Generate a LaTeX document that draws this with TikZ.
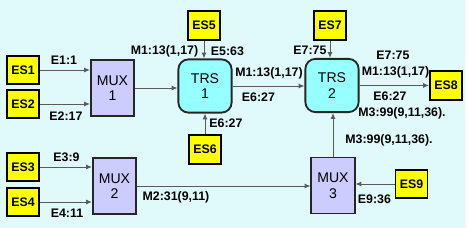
\documentclass[tikz,border=0pt]{standalone}
\usepackage{fontspec}
\setmainfont{Liberation Sans}
\usepackage{tikz}
\usetikzlibrary{arrows.meta}
\definecolor{bgcyan}{RGB}{224,250,252}
\definecolor{srcyel}{RGB}{255,255,0}
\definecolor{muxlav}{RGB}{204,204,255}
\definecolor{trscyan}{RGB}{150,255,255}
\definecolor{conngray}{RGB}{90,90,90}

\begin{document}
\begin{tikzpicture}[
  x=0.025cm, y=-0.025cm,
  src/.style={draw=black, line width=1.3pt, fill=srcyel, minimum width=0.8cm, minimum height=0.72cm,
    inner sep=0, font=\fontsize{8.8}{10}\selectfont\bfseries},
  mux/.style={draw=black!85, line width=1.3pt, fill=muxlav, minimum width=1.08cm, minimum height=1.4cm,
    inner sep=0, align=center, font=\fontsize{10}{11}\selectfont},
  trs/.style={draw=black!85, line width=1.3pt, fill=trscyan, rounded corners=0.25cm, minimum width=1.33cm,
    minimum height=1.33cm, inner sep=0, align=center, font=\fontsize{10}{11}\selectfont},
  conn/.style={draw=conngray, line width=0.7pt, -{Latex[length=4.2pt,width=3.6pt]}},
  lbl/.style={font=\fontsize{8.8}{10}\selectfont\bfseries, inner sep=0},
]
% --- tlo ---
\fill[white] (0,0) rectangle (468,228);
\fill[bgcyan] (0,0) rectangle (465,228);
% --- zrodla ES ---
\node[src] (ES1) at (23,70) {ES1};
\node[src] (ES2) at (23,104) {ES2};
\node[src] (ES3) at (23,167) {ES3};
\node[src] (ES4) at (23,202) {ES4};
\node[src] (ES5) at (204,25.5) {ES5};
\node[src] (ES6) at (205,149.5) {ES6};
\node[src] (ES7) at (330,25.5) {ES7};
\node[src] (ES8) at (446,85.5) {ES8};
\node[src] (ES9) at (411.5,184) {ES9};
% --- multipleksery i TRS ---
\node[mux] (MUX1) at (112.5,88) {MUX\\1};
\node[mux] (MUX2) at (114.5,186) {MUX\\2};
\node[mux] (MUX3) at (333,185.5) {MUX\\3};
\node[trs] (TRS1) at (205,86) {TRS\\1};
\node[trs] (TRS2) at (332,85.5) {TRS\\2};
% --- polaczenia ---
\draw[conn] (ES1) -- (ES1 -| MUX1.west);
\draw[conn] (ES2) -- (ES2 -| MUX1.west);
\draw[conn] (ES3) -- (ES3 -| MUX2.west);
\draw[conn] (ES4) -- (ES4 -| MUX2.west);
\draw[conn] (MUX1) -- (MUX1 -| TRS1.west);
\draw[conn] (ES5) -- (ES5 |- TRS1.north);
\draw[conn] (ES6) -- (ES6 |- TRS1.south);
\draw[conn] (TRS1) -- (TRS1 -| TRS2.west);
\draw[conn] (ES7) -- (ES7 |- TRS2.north);
\draw[conn] (TRS2) -- (TRS2 -| ES8.west);
\draw[conn] (MUX2) -- (MUX2 -| MUX3.west);
\draw[conn] (ES9) -- (ES9 -| MUX3.east);
\draw[conn] (MUX3) -- (MUX3 |- TRS2.south);
% --- etykiety ---
\node[lbl] (lE1) at (64,60) {E1:1};
\node[lbl] (lE2) at (66,116) {E2:17};
\node[lbl] (lE3) at (66.5,157) {E3:9};
\node[lbl] (lE4) at (67,213) {E4:11};
\node[lbl] (lM1a) at (164.5,51) {M1:13(1,17)};
\node[lbl] (lE5) at (227.5,51) {E5:63};
\node[lbl] (lM1b) at (269,73) {M1:13(1,17)};
\node[lbl] (lE6b) at (258.5,97) {E6:27};
\node[lbl] (lE6a) at (226,123) {E6:27};
\node[lbl] (lE7a) at (310,50) {E7:75};
\node[lbl] (lE7b) at (393,55) {E7:75};
\node[lbl] (lM1c) at (395.5,72) {M1:13(1,17)};
\node[lbl] (lE6c) at (390,96) {E6:27};
\node[lbl] (lM3a) at (402,113) {M3:99(9,11,36).};
\node[lbl] (lM3b) at (389,140) {M3:99(9,11,36).};
\node[lbl] (lM2) at (176,197) {M2:31(9,11)};
\node[lbl] (lE9) at (374.5,199) {E9:36};
\end{tikzpicture}
\end{document}
